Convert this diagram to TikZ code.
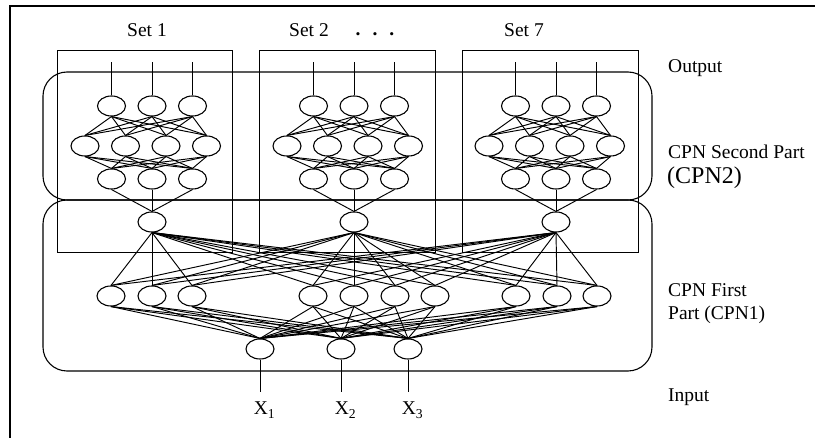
\documentclass[tikz,border=0pt]{standalone}
\usepackage{fontspec}
\setmainfont{Liberation Serif}
\usetikzlibrary{shapes.geometric}
\begin{document}
\begin{tikzpicture}[x=1pt,y=-1pt,
  neuron/.style={draw,ellipse,minimum width=28pt,minimum height=20pt,inner sep=0pt,line width=1.1pt},
  conn/.style={line width=0.95pt},
  setbox/.style={line width=1pt},
  partbox/.style={line width=1.1pt,rounded corners=24pt},
  lbl/.style={font=\fontsize{19.5}{22}\selectfont,inner sep=0pt},
  biglbl/.style={font=\fontsize{24}{27}\selectfont,inner sep=0pt}]
\useasboundingbox (0,0) rectangle (815,438);
% outer frame
\draw[line width=1.6pt] (10,438) -- (10,6) -- (815,6);
% set boxes
\draw[setbox] (57,51) rectangle (232,253);
\draw[setbox] (259,51) rectangle (435,253);
\draw[setbox] (462,51) rectangle (638,253);
% part boxes
\draw[partbox] (43,72) rectangle (652,200);
\draw[partbox] (43,200) rectangle (652,371);
% set labels
\node[lbl,anchor=base] (set1) at (147,37) {Set 1};
\node[lbl,anchor=base] (set2) at (309,37) {Set 2};
\node[lbl,anchor=base] (dots) at (375,36) {\textbf{.}\hspace{12pt}\textbf{.}\hspace{12pt}\textbf{.}};
\node[lbl,anchor=base] (set7) at (524,37) {Set 7};
% sets (second part)
\foreach \s/\cx in {a/152,b/354,c/556}{
  \foreach \i in {1,2,3}{
    \node[neuron] (t\s\i) at ({\cx-81+40.5*\i},106) {};
    \node[neuron] (b\s\i) at ({\cx-81+40.5*\i},179) {};
    \coordinate (o\s\i) at ({\cx-81+40.5*\i},62);
  }
  \foreach \j in {1,2,3,4}{
    \node[neuron] (m\s\j) at ({\cx-107.5+40.5*\j},146) {};
  }
  \node[neuron] (h\s) at (\cx,222) {};
  \foreach \i in {1,2,3}{
    \draw[conn] (t\s\i.north) -- (o\s\i);
    \draw[conn] (b\s\i.south) -- (h\s.north);
    \foreach \j in {1,2,3,4}{
      \draw[conn] (t\s\i.south) -- (m\s\j.north);
      \draw[conn] (m\s\j.south) -- (b\s\i.north);
    }
  }
}
% first part middle layer
\foreach \k/\x in {1/111,2/152,3/192,4/313,5/354,6/395,7/435,8/516,9/557,10/597}{
  \node[neuron] (p\k) at (\x,296) {};
}
% input nodes
\foreach \n/\x in {1/260,2/341,3/408}{
  \node[neuron] (in\n) at (\x,349) {};
  \coordinate (x\n) at (\x,392);
  \draw[conn] (in\n.south) -- (x\n);
  \node[lbl,anchor=base] (xl\n) at (\x+4.5,415) {X\textsubscript{\n}};
}
\foreach \k in {1,...,10}{
  \foreach \s in {a,b,c}{
    \draw[conn] (h\s.south) -- (p\k.north);
  }
  \foreach \n in {1,2,3}{
    \draw[conn] (p\k.south) -- (in\n.north);
  }
}
% right labels
\node[lbl,anchor=base west] (lout) at (668,73) {Output};
\node[lbl,anchor=base west] (lcpn2a) at (668,159) {CPN Second Part};
\node[biglbl,anchor=base west] (lcpn2b) at (667,184) {(CPN2)};
\node[lbl,anchor=base west] (lcpn1a) at (668,297) {CPN First};
\node[lbl,anchor=base west] (lcpn1b) at (668,320) {Part (CPN1)};
\node[lbl,anchor=base west] (lin) at (668,402) {Input};
\end{tikzpicture}
\end{document}
